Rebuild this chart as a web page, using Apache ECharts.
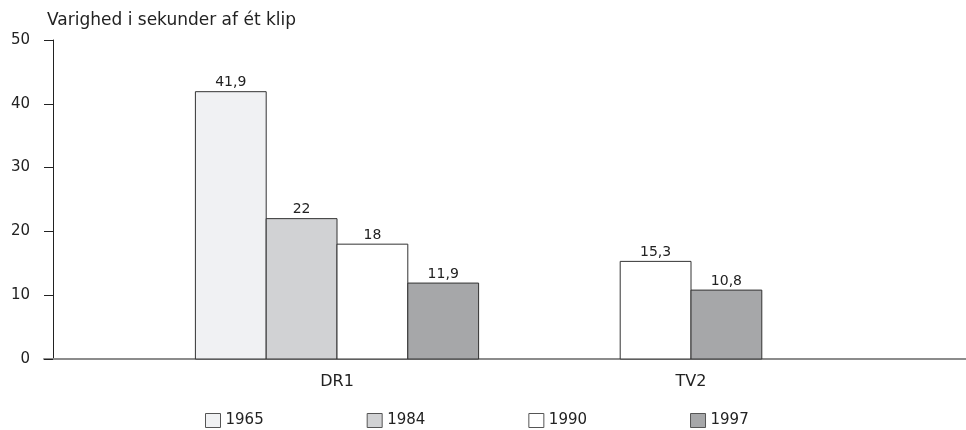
<!DOCTYPE html>
<html>
<head>
<meta charset="utf-8">
<script src="https://cdn.jsdelivr.net/npm/echarts@6/dist/echarts.min.js"></script>
<style>
  html, body { margin: 0; padding: 0; background: #fff; }
  #chart { width: 966px; height: 430px; }
</style>
</head>
<body>
<div id="chart"></div>
<script>
const categories = ['DR1', 'TV2']
const years = ['1965', '1984', '1990', '1997']
const v1965 = [41.9, null]
const v1984 = [22, null]
const v1990 = [18, 15.3]
const v1997 = [11.9, 10.8]
const yTicks = [0, 10, 20, 30, 40, 50]

const values = [v1965, v1984, v1990, v1997]
const colors = ['#f0f1f3', '#d1d2d4', '#ffffff', '#a6a7a9']
const font = 'DejaVu Sans'

const fmt = v => String(v).replace('.', ',')

// bars present in a category are centred on it (TV2 only has two)
function makeRender(k) {
  return function (params, api) {
    const ci = api.value(0)
    const v = api.value(1)
    const present = []
    values.forEach((arr, j) => { if (arr[ci] != null) present.push(j) })
    const pos = present.indexOf(k)
    const n = present.length
    const bw = api.size([1, 0])[0] * 0.2
    const base = api.coord([ci, 0])
    const top = api.coord([ci, v])
    const x = base[0] + (pos - n / 2) * bw
    return {
      type: 'group',
      children: [
        {
          type: 'rect',
          shape: { x: x, y: top[1], width: bw, height: base[1] - top[1] },
          style: { fill: colors[k], stroke: '#333', lineWidth: 1 }
        },
        {
          type: 'text',
          x: x + bw / 2,
          y: top[1] - 2,
          style: {
            text: fmt(v), align: 'center', verticalAlign: 'bottom',
            fill: '#222', fontSize: 14, fontFamily: font
          }
        }
      ]
    }
  }
}

const chart = echarts.init(document.getElementById('chart'))

const option = {
  animation: false,
  backgroundColor: '#fff',
  textStyle: { fontFamily: font, color: '#222' },
  legend: {
    left: 200,
    top: 408,
    itemWidth: 15,
    itemHeight: 14,
    itemGap: 103,
    textStyle: { fontSize: 15, color: '#222', fontFamily: font },
    data: years.map((y, k) => ({
      name: y, icon: 'rect',
      itemStyle: { color: colors[k], borderColor: '#555', borderWidth: 1 }
    }))
  },
  grid: [
    { left: 44, right: 0, top: 40, bottom: 71 },
    { left: 160, right: 98, top: 40, bottom: 71 }
  ],
  xAxis: [
    {
      gridIndex: 0, type: 'value', min: 0, max: 1,
      axisLine: { show: true, lineStyle: { color: '#8c8c8c', width: 2 } },
      axisTick: { show: false }, axisLabel: { show: false }, splitLine: { show: false }
    },
    {
      gridIndex: 1, type: 'category', data: categories,
      axisLine: { show: false }, axisTick: { show: false },
      axisLabel: { fontSize: 16, color: '#222', margin: 15, fontFamily: font }
    }
  ],
  yAxis: [
    {
      gridIndex: 0, type: 'value', min: yTicks[0], max: yTicks[yTicks.length - 1], interval: 10,
      offset: -9,
      name: 'Varighed i sekunder af ét klip',
      nameLocation: 'end',
      nameGap: 11,
      nameTextStyle: { align: 'left', fontSize: 17, color: '#222', padding: [0, 0, 0, -6], fontFamily: font },
      axisLine: { show: true, lineStyle: { color: '#222', width: 1 } },
      axisTick: { show: true, length: 9, lineStyle: { color: '#222' } },
      axisLabel: { fontSize: 15, color: '#222', margin: 23, fontFamily: font },
      splitLine: { show: false }
    },
    {
      gridIndex: 1, type: 'value', min: 0, max: 50, show: false, splitLine: { show: false }
    }
  ],
  series: years.map((y, k) => ({
    name: y,
    type: 'custom',
    xAxisIndex: 1,
    yAxisIndex: 1,
    itemStyle: { color: colors[k] },
    renderItem: makeRender(k),
    encode: { x: 0, y: 1 },
    data: categories.map((c, i) => [i, values[k][i]]).filter(d => d[1] != null)
  }))
}

chart.setOption(option)
</script>
</body>
</html>
